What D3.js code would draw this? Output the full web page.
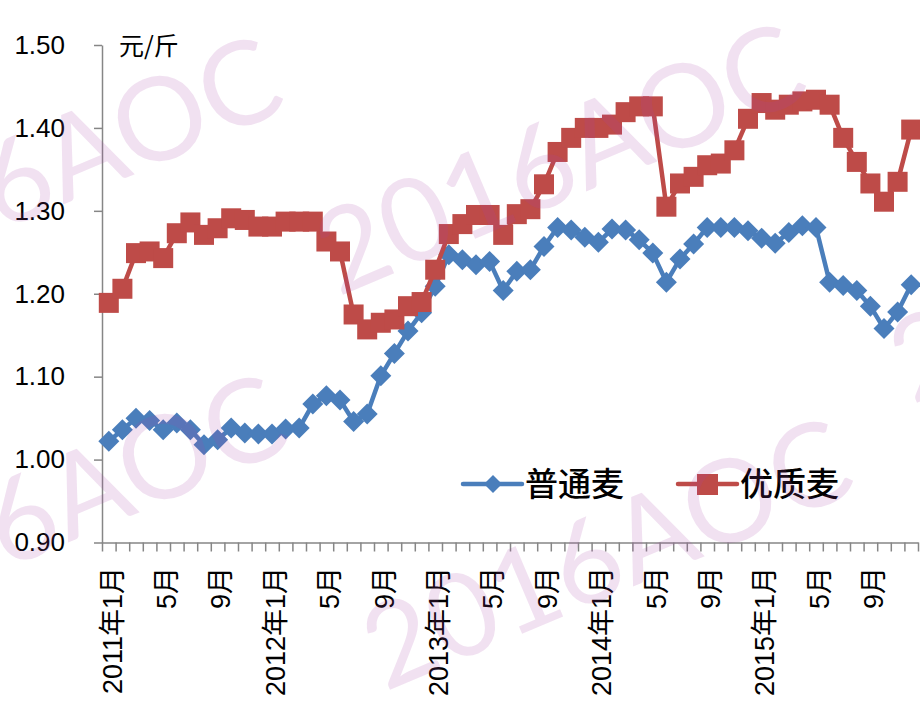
<!DOCTYPE html>
<html>
<head>
<meta charset="utf-8">
<script src="https://cdn.jsdelivr.net/npm/d3@7"></script>
<style>
  body { margin: 0; background: #fff; }
  svg { display: block; }
</style>
</head>
<body>
<div id="viz"></div>
<script>
// price data, 元/斤, monthly from 2011年1月 to 2015年12月
var years = [2011, 2012, 2013, 2014, 2015];
var monthNums = [1, 2, 3, 4, 5, 6, 7, 8, 9, 10, 11, 12];
var labelMonths = [1, 5, 9];
var yTicks = [0.90, 1.00, 1.10, 1.20, 1.30, 1.40, 1.50];
var seriesNames = ['普通麦', '优质麦'];

var putong = [
  1.022, 1.036, 1.050, 1.047, 1.036, 1.044, 1.036, 1.018, 1.024, 1.038, 1.032, 1.031,
  1.031, 1.037, 1.038, 1.067, 1.077, 1.072, 1.046, 1.055, 1.101, 1.128, 1.155, 1.177,
  1.209, 1.247, 1.241, 1.235, 1.239, 1.204, 1.227, 1.229, 1.257, 1.280, 1.277, 1.268,
  1.262, 1.278, 1.277, 1.265, 1.249, 1.214, 1.242, 1.260, 1.280, 1.280, 1.280, 1.276,
  1.267, 1.261, 1.274, 1.282, 1.280, 1.214, 1.210, 1.204, 1.185, 1.158, 1.178, 1.211
];
var youzhi = [
  1.189, 1.206, 1.249, 1.251, 1.243, 1.273, 1.286, 1.271, 1.279, 1.291, 1.289, 1.281,
  1.281, 1.287, 1.287, 1.287, 1.263, 1.251, 1.175, 1.157, 1.165, 1.169, 1.185, 1.190,
  1.229, 1.272, 1.284, 1.295, 1.295, 1.271, 1.296, 1.302, 1.332, 1.371, 1.388, 1.400,
  1.400, 1.404, 1.419, 1.426, 1.426, 1.305, 1.333, 1.341, 1.355, 1.357, 1.373, 1.411,
  1.430, 1.422, 1.428, 1.432, 1.434, 1.428, 1.388, 1.359, 1.333, 1.311, 1.335, 1.398
];

// categories
var months = [];
years.forEach(function(yr) {
  monthNums.forEach(function(m) { months.push({year: yr, month: m}); });
});

var W = 920, H = 705;
var plot = {left: 102, right: 918, top: 45, bottom: 542.5};
var blue = '#4A7EBB', red = '#BE4B48', axisColor = '#868686';
var txtFont = '"Liberation Sans", Arial, "Noto Sans CJK SC", sans-serif';
var cjkFont = '"Noto Sans CJK SC", sans-serif';

var svg = d3.select('#viz').append('svg')
    .attr('width', W)
    .attr('height', H);

// scales
var x = d3.scaleBand()
    .domain(d3.range(months.length))
    .range([plot.left, plot.right])
    .padding(0);
var xEdge = d3.scaleLinear().domain([0, months.length]).range([plot.left, plot.right]);
var y = d3.scaleLinear().domain([0.9, 1.5]).range([plot.bottom, plot.top]);

function cx(i) { return x(i) + x.bandwidth() / 2; }

// y axis
var yAxis = svg.append('g')
    .attr('transform', 'translate(' + plot.left + ',0)')
    .call(d3.axisLeft(y).tickValues(yTicks).tickSize(8).tickSizeOuter(0).tickPadding(29).tickFormat(d3.format('.2f')));
yAxis.selectAll('path').attr('stroke', axisColor).attr('stroke-width', 1.5);
yAxis.selectAll('line').attr('stroke', axisColor).attr('stroke-width', 1.5);
yAxis.selectAll('text')
    .attr('fill', '#000')
    .style('font-size', '26px')
    .style('font-family', txtFont);

// x axis, ticks at month boundaries
var xAxis = svg.append('g')
    .attr('transform', 'translate(0,' + plot.bottom + ')')
    .call(d3.axisBottom(xEdge).tickValues(d3.range(months.length + 1)).tickSize(9).tickSizeOuter(0).tickFormat(''));
xAxis.selectAll('path').attr('stroke', axisColor).attr('stroke-width', 1.5);
xAxis.selectAll('line').attr('stroke', axisColor).attr('stroke-width', 1.5);

// rotated month labels
svg.append('g').selectAll('text')
    .data(months.map(function(d, i) { return {d: d, i: i}; })
      .filter(function(o) { return labelMonths.indexOf(o.d.month) >= 0; }))
    .enter().append('text')
    .attr('transform', function(o) { return 'translate(' + (cx(o.i) + 3) + ',567) rotate(-90)'; })
    .attr('text-anchor', 'end')
    .attr('dy', '0.36em')
    .attr('fill', '#000')
    .style('font-size', '27px')
    .style('font-family', txtFont)
    .text(function(o) { return o.d.month == 1 ? o.d.year + '年1月' : o.d.month + '月'; });

// unit label
svg.append('text')
    .attr('x', 119)
    .attr('y', 55)
    .attr('fill', '#000')
    .style('font-size', '25px')
    .style('font-family', cjkFont)
    .text('元/斤');

// lines and markers
var line = d3.line()
    .x(function(d, i) { return cx(i); })
    .y(function(d) { return y(d); });

function diamondPath(px, py, r) {
  return 'M' + px + ',' + (py - r) + 'L' + (px + r) + ',' + py + 'L' + px + ',' + (py + r) + 'L' + (px - r) + ',' + py + 'Z';
}

var gBlue = svg.append('g');
gBlue.append('path')
    .datum(putong)
    .attr('d', line)
    .attr('fill', 'none')
    .attr('stroke', blue)
    .attr('stroke-width', 4.5)
    .attr('stroke-linejoin', 'round');
gBlue.selectAll('path.m')
    .data(putong)
    .enter().append('path')
    .attr('class', 'm')
    .attr('d', function(d, i) { return diamondPath(cx(i), y(d), 10.5); })
    .attr('fill', blue);

var gRed = svg.append('g');
gRed.append('path')
    .datum(youzhi)
    .attr('d', line)
    .attr('fill', 'none')
    .attr('stroke', red)
    .attr('stroke-width', 4.5)
    .attr('stroke-linejoin', 'round');
gRed.selectAll('rect')
    .data(youzhi)
    .enter().append('rect')
    .attr('x', function(d, i) { return cx(i) - 10; })
    .attr('y', function(d) { return y(d) - 10; })
    .attr('width', 20)
    .attr('height', 20)
    .attr('fill', red);

// legend
var leg = svg.append('g');
leg.append('line').attr('x1', 463).attr('x2', 522).attr('y1', 484).attr('y2', 484)
    .attr('stroke', blue).attr('stroke-width', 4.5).attr('stroke-linecap', 'round');
leg.append('path').attr('d', diamondPath(493, 484, 9)).attr('fill', blue);
leg.append('text').attr('x', 525).attr('y', 484).attr('dy', '0.36em')
    .style('font-size', '33px').style('font-family', cjkFont).style('font-weight', 500).attr('fill', '#000')
    .text(seriesNames[0]);
leg.append('line').attr('x1', 678).attr('x2', 737).attr('y1', 484).attr('y2', 484)
    .attr('stroke', red).attr('stroke-width', 4.5).attr('stroke-linecap', 'round');
leg.append('rect').attr('x', 697).attr('y', 474).attr('width', 21).attr('height', 21).attr('fill', red);
leg.append('text').attr('x', 740).attr('y', 484).attr('dy', '0.36em')
    .style('font-size', '33px').style('font-family', cjkFont).style('font-weight', 500).attr('fill', '#000')
    .text(seriesNames[1]);

// watermark
var marks = [[-185, 310], [338, 297], [912, 405], [-180, 648], [385, 692]];
svg.append('g').selectAll('text')
    .data(marks)
    .enter().append('text')
    .attr('transform', function(d) { return 'translate(' + d[0] + ',' + d[1] + ') rotate(-23)'; })
    .style('font-size', '116px')
    .style('font-family', 'Lato, "Liberation Sans", sans-serif')
    .style('font-weight', 400)
    .attr('fill', 'rgb(170,70,170)')
    .attr('fill-opacity', 0.16)
    .text('2016AOC');
</script>
</body>
</html>
